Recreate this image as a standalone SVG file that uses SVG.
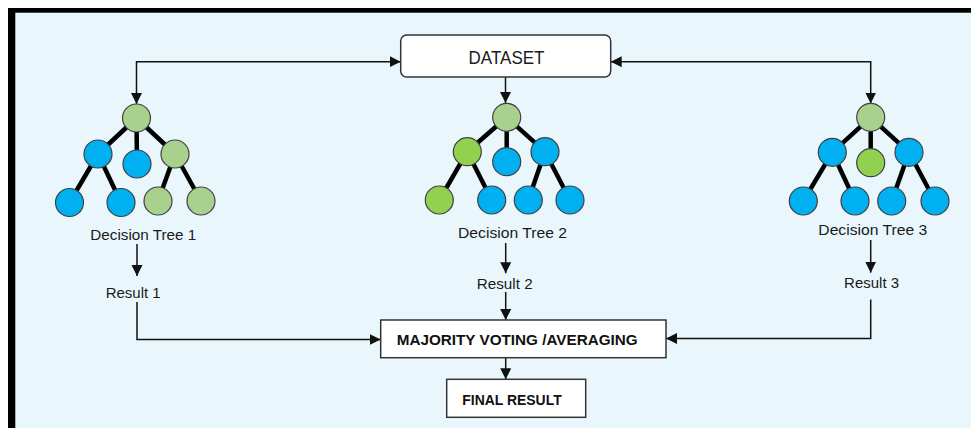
<svg xmlns="http://www.w3.org/2000/svg" width="971" height="428" viewBox="0 0 971 428">
<defs>
<marker id="ah" markerUnits="userSpaceOnUse" markerWidth="12" markerHeight="12" refX="11" refY="5.5" orient="auto-start-reverse">
<path d="M0,0 L11,5.5 L0,11 z" fill="#111"/>
</marker>
<style>
.bg{fill:#E9F7FD}
.edge{stroke:#000;stroke-width:4.5;stroke-linecap:butt}
.n{stroke:#404040;stroke-width:1.2}
.b{fill:#00B0F0}
.lg{fill:#A9D18E}
.g{fill:#92D050}
.lbl{font-family:"Liberation Sans",Arial,sans-serif;font-size:15px;fill:#1a1a1a;text-anchor:middle}
.res{font-family:"Liberation Sans",Arial,sans-serif;font-size:15px;fill:#1a1a1a;text-anchor:middle}
.bold{font-family:"Liberation Sans",Arial,sans-serif;font-size:14.5px;font-weight:bold;fill:#111;text-anchor:middle}
.box{fill:#fff;stroke:#333;stroke-width:1.5}
.conn{fill:none;stroke:#111;stroke-width:1.5}
</style>
</defs>
<rect x="0" y="0" width="971" height="428" fill="#fff"/>
<rect x="8" y="8" width="970" height="430" fill="#000"/>
<rect class="bg" x="15.3" y="12.7" width="960" height="420"/>

<g id="connectors">
<polyline class="conn" points="400.7,61.7 136.5,61.7 136.5,104" marker-start="url(#ah)" marker-end="url(#ah)"/>
<polyline class="conn" points="610.7,61.7 870.7,61.7 870.7,103.5" marker-start="url(#ah)" marker-end="url(#ah)"/>
<line class="conn" x1="505.5" y1="77" x2="505.5" y2="103" marker-end="url(#ah)"/>
<line class="conn" x1="137" y1="244" x2="137" y2="276" marker-end="url(#ah)"/>
<line class="conn" x1="505.7" y1="243" x2="505.7" y2="273.3" marker-end="url(#ah)"/>
<line class="conn" x1="870.7" y1="240" x2="870.7" y2="272.7" marker-end="url(#ah)"/>
<polyline class="conn" points="137,302 137,339.5 380.7,339.5" marker-end="url(#ah)"/>
<line class="conn" x1="505.7" y1="292" x2="505.7" y2="320" marker-end="url(#ah)"/>
<polyline class="conn" points="870.7,299.5 870.7,338.5 666,338.5" marker-end="url(#ah)"/>
<line class="conn" x1="505.7" y1="358" x2="505.7" y2="379.3" marker-end="url(#ah)"/>
</g>

<g id="dataset">
<rect class="box" x="400.7" y="35" width="210" height="42" rx="6" stroke="#555"/>
<text x="506.5" y="64" font-family="Liberation Sans, Arial, sans-serif" font-size="17.5" fill="#1a1a1a" text-anchor="middle" textLength="76" lengthAdjust="spacingAndGlyphs">DATASET</text>
</g>

<g id="tree1">
<line class="edge" x1="136.5" y1="118" x2="98" y2="154"/>
<line class="edge" x1="136.5" y1="118" x2="137" y2="164"/>
<line class="edge" x1="136.5" y1="118" x2="175" y2="154"/>
<line class="edge" x1="98" y1="154" x2="69.5" y2="202.5"/>
<line class="edge" x1="98" y1="154" x2="121" y2="202.5"/>
<line class="edge" x1="175" y1="154" x2="158" y2="201"/>
<line class="edge" x1="175" y1="154" x2="201" y2="201"/>
<circle class="n lg" cx="136.5" cy="118" r="14"/>
<circle class="n b" cx="98" cy="154" r="14"/>
<circle class="n b" cx="137" cy="164" r="14"/>
<circle class="n lg" cx="175" cy="154" r="14"/>
<circle class="n b" cx="69.5" cy="202.5" r="14"/>
<circle class="n b" cx="121" cy="202.5" r="14"/>
<circle class="n lg" cx="158" cy="201" r="14"/>
<circle class="n lg" cx="201" cy="201" r="14"/>
<text class="lbl" x="143.3" y="240" textLength="106" lengthAdjust="spacingAndGlyphs">Decision Tree 1</text>
</g>

<g id="tree2">
<line class="edge" x1="506.7" y1="117.3" x2="467.3" y2="151.7"/>
<line class="edge" x1="506.7" y1="117.3" x2="506.7" y2="161.7"/>
<line class="edge" x1="506.7" y1="117.3" x2="545" y2="151.7"/>
<line class="edge" x1="467.3" y1="151.7" x2="439.3" y2="200"/>
<line class="edge" x1="467.3" y1="151.7" x2="491.7" y2="200"/>
<line class="edge" x1="545" y1="151.7" x2="528.3" y2="200"/>
<line class="edge" x1="545" y1="151.7" x2="570" y2="200"/>
<circle class="n lg" cx="506.7" cy="117.3" r="14"/>
<circle class="n g" cx="467.3" cy="151.7" r="14"/>
<circle class="n b" cx="506.7" cy="161.7" r="14"/>
<circle class="n b" cx="545" cy="151.7" r="14"/>
<circle class="n g" cx="439.3" cy="200" r="14"/>
<circle class="n b" cx="491.7" cy="200" r="14"/>
<circle class="n b" cx="528.3" cy="200" r="14"/>
<circle class="n b" cx="570" cy="200" r="14"/>
<text class="lbl" x="512.5" y="238.3" textLength="109" lengthAdjust="spacingAndGlyphs">Decision Tree 2</text>
</g>

<g id="tree3">
<line class="edge" x1="870.7" y1="117.3" x2="832.3" y2="152.3"/>
<line class="edge" x1="870.7" y1="117.3" x2="870.7" y2="162.7"/>
<line class="edge" x1="870.7" y1="117.3" x2="909" y2="152.3"/>
<line class="edge" x1="832.3" y1="152.3" x2="803.3" y2="201"/>
<line class="edge" x1="832.3" y1="152.3" x2="855" y2="201"/>
<line class="edge" x1="909" y1="152.3" x2="891.7" y2="201"/>
<line class="edge" x1="909" y1="152.3" x2="935" y2="201"/>
<circle class="n lg" cx="870.7" cy="117.3" r="14"/>
<circle class="n b" cx="832.3" cy="152.3" r="14"/>
<circle class="n g" cx="870.7" cy="162.7" r="14"/>
<circle class="n b" cx="909" cy="152.3" r="14"/>
<circle class="n b" cx="803.3" cy="201" r="14"/>
<circle class="n b" cx="855" cy="201" r="14"/>
<circle class="n b" cx="891.7" cy="201" r="14"/>
<circle class="n b" cx="935" cy="201" r="14"/>
<text class="lbl" x="872.8" y="235" textLength="109" lengthAdjust="spacingAndGlyphs">Decision Tree 3</text>
</g>

<g id="result1"><text class="res" x="133.2" y="298.3" textLength="55" lengthAdjust="spacingAndGlyphs">Result 1</text></g>
<g id="result2"><text class="res" x="504.7" y="289.3" textLength="56" lengthAdjust="spacingAndGlyphs">Result 2</text></g>
<g id="result3"><text class="res" x="871.6" y="288.3" textLength="55" lengthAdjust="spacingAndGlyphs">Result 3</text></g>

<g id="majority">
<rect class="box" x="380.7" y="320" width="285.3" height="37.7"/>
<text class="bold" x="517.2" y="345" textLength="241" lengthAdjust="spacingAndGlyphs">MAJORITY VOTING  /AVERAGING</text>
</g>

<g id="final">
<rect class="box" x="446.7" y="379.3" width="139" height="38"/>
<text class="bold" x="512" y="405" textLength="99.4" lengthAdjust="spacingAndGlyphs">FINAL RESULT</text>
</g>
</svg>
